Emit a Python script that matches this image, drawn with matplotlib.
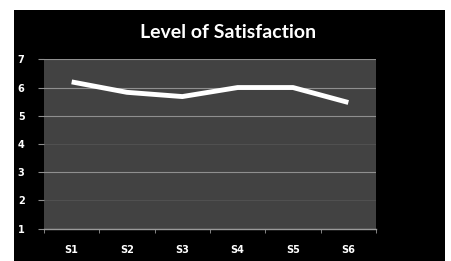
import matplotlib.pyplot as plt
from matplotlib.patches import Rectangle

categories = ["S1", "S2", "S3", "S4", "S5", "S6"]
satisfaction = [6.2, 5.83, 5.68, 6.0, 6.0, 5.47]
y_ticks = [1, 2, 3, 4, 5, 6, 7]

W, H = 451, 261
fig = plt.figure(figsize=(W / 100, H / 100), dpi=100)
fig.patch.set_facecolor("white")
fig.patches.append(Rectangle((14 / W, 0), (445 - 14) / W, (H - 10) / H,
                             transform=fig.transFigure, facecolor="black",
                             edgecolor="none", zorder=0))

ax = fig.add_axes([44 / W, (H - 228.7) / H, (376 - 44) / W, (228.7 - 59.3) / H])
ax.set_zorder(2)
ax.set_facecolor("#424242")

x = range(len(categories))
ax.plot(x, satisfaction, color="white", linewidth=3.5, solid_capstyle="butt",
        solid_joinstyle="round", zorder=3)

ax.set_xlim(-0.5, len(categories) - 0.5)
ax.set_ylim(1, 7)
ax.set_yticks(y_ticks)
ax.set_xticks(x)
ax.set_xticklabels(categories)
ax.set_xticks([i - 0.5 for i in range(len(categories) + 1)], minor=True)

ax.grid(True, axis="y", color="#8f8f8f", linewidth=0.8)
for tick, line in zip(y_ticks, ax.yaxis.get_gridlines()):
    if tick in (2, 4):
        line.set_color("#505050")

for s in ["top", "right", "left"]:
    ax.spines[s].set_visible(False)
ax.spines["bottom"].set_color("#9a9a9a")
ax.spines["bottom"].set_linewidth(1)

ax.tick_params(axis="x", which="major", length=0, pad=12,
               labelcolor="white", labelsize=7)
ax.tick_params(axis="x", which="minor", length=3, color="#9a9a9a", direction="out")
ax.tick_params(axis="y", length=4, color="#8f8f8f", pad=10,
               labelcolor="white", labelsize=7)
for lab in ax.get_yticklabels() + ax.get_xticklabels():
    lab.set_fontweight("bold")

fig.text(228 / W, (H - 33) / H, "Level of Satisfaction", color="white",
         fontsize=14, fontweight="bold", family="Lato", ha="center", va="center",
         zorder=5)

fig.savefig("out.png", dpi=100)
